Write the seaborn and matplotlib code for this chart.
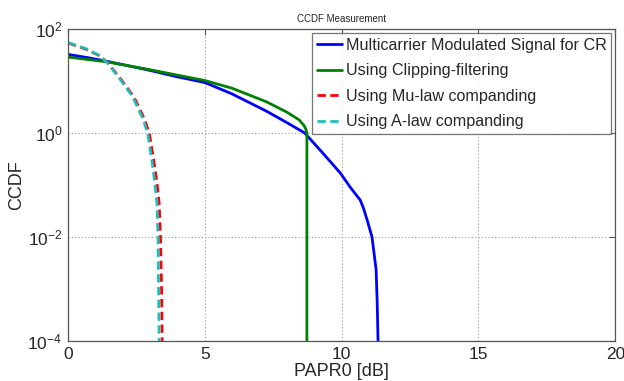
import numpy as np
import pandas as pd
import matplotlib
matplotlib.use("Agg")
import matplotlib.pyplot as plt
import seaborn as sns

# PAPR0 thresholds [dB] and CCDF values [%] for each scheme
papr_original = [0.0, 0.7, 1.4, 2.85, 4.0, 5.0, 6.0, 7.25, 8.0, 8.65, 9.3,
                 9.95, 10.31, 10.5, 10.68, 10.8, 10.93, 11.11, 11.26, 11.30,
                 11.33]
ccdf_original = [32.4, 28.2, 24.0, 16.6, 12.0, 9.33, 5.62, 2.63, 1.58, 1.0,
                 0.417, 0.170, 0.0912, 0.0676, 0.0513, 0.0355, 0.0214, 0.010,
                 0.00234, 0.000537, 0.0001]

papr_clipping = [0.0, 1.4, 2.85, 5.0, 6.0, 7.25, 8.0, 8.45, 8.63, 8.70,
                 8.73, 8.73]
ccdf_clipping = [28.8, 23.4, 17.0, 10.2, 7.24, 3.98, 2.51, 1.78, 1.38, 1.15,
                 1.0, 0.0001]

papr_mulaw = [0.0, 0.66, 1.17, 1.48, 1.92, 2.41, 2.79, 2.97, 3.14, 3.25,
              3.33, 3.38, 3.42, 3.44]
ccdf_mulaw = [53.7, 40.7, 30.2, 21.4, 11.0, 4.90, 1.86, 1.0, 0.282, 0.112,
              0.0447, 0.010, 0.001, 0.0001]

papr_alaw = [0.0, 0.66, 1.15, 1.45, 1.88, 2.36, 2.73, 2.91, 3.07, 3.17,
             3.25, 3.29, 3.31, 3.33]
ccdf_alaw = [55.0, 41.7, 30.9, 21.9, 11.2, 5.01, 1.91, 1.0, 0.282, 0.112,
             0.0447, 0.010, 0.001, 0.0001]

labels = ["Multicarrier Modulated Signal for CR",
          "Using Clipping-filtering",
          "Using Mu-law companding",
          "Using A-law companding"]

sns.set_theme(style="white")
plt.rcParams["font.family"] = ["Liberation Sans", "DejaVu Sans"]
plt.rcParams["mathtext.fontset"] = "custom"
plt.rcParams["mathtext.rm"] = "Liberation Sans"
plt.rcParams["mathtext.it"] = "Liberation Sans:italic"

fig = plt.figure(figsize=(6.24, 3.81), dpi=100)
ax = fig.add_axes([0.109, 0.105, 0.877, 0.819])

series = [
    (papr_original, ccdf_original, "#0000ff", None),
    (papr_clipping, ccdf_clipping, "#008000", None),
    (papr_mulaw, ccdf_mulaw, "#ff0000", (3, 1.6)),
    (papr_alaw, ccdf_alaw, "#1ebebe", (3, 1.6)),
]
for (x, y, color, dash), label in zip(series, labels):
    df = pd.DataFrame({"papr": x, "ccdf": y})
    sns.lineplot(data=df, x="papr", y="ccdf", ax=ax, color=color,
                 lw=2, sort=False, label=label, estimator=None)
    if dash is not None:
        ax.lines[-1].set_dashes(dash)

ax.set_yscale("log")
ax.set_xlim(0, 20)
ax.set_ylim(1e-4, 1e2)
ax.set_xticks([0, 5, 10, 15, 20])
ax.set_yticks([1e-4, 1e-2, 1e0, 1e2])
ax.set_yticklabels([r"$10^{-4}$", r"$10^{-2}$", r"$10^{0}$", r"$10^{2}$"])
ax.yaxis.set_minor_locator(matplotlib.ticker.NullLocator())
ax.tick_params(axis="both", which="major", direction="in", length=4,
               width=0.8, color="#555555", labelsize=12.5, top=True, right=True,
               pad=4)

ax.grid(True, which="major", linestyle=(0, (1, 2)), color="#999999", lw=0.8)
for s in ax.spines.values():
    s.set_color("#555555")
    s.set_linewidth(0.9)

ax.set_xlabel("PAPR0 [dB]", fontsize=13, labelpad=1)
ax.set_ylabel("CCDF", fontsize=13, labelpad=2)
ax.set_title("CCDF Measurement", fontsize=7, pad=5)

leg = ax.legend(loc="upper right", fontsize=11.6, frameon=True, fancybox=False,
                handlelength=1.6, handletextpad=0.2, borderpad=0.3,
                labelspacing=0.65, borderaxespad=0.25)
leg.get_frame().set_edgecolor("#555555")
leg.get_frame().set_linewidth(0.9)
for h in leg.get_lines():
    h.set_linewidth(2)

fig.savefig("out.png", dpi=100)
